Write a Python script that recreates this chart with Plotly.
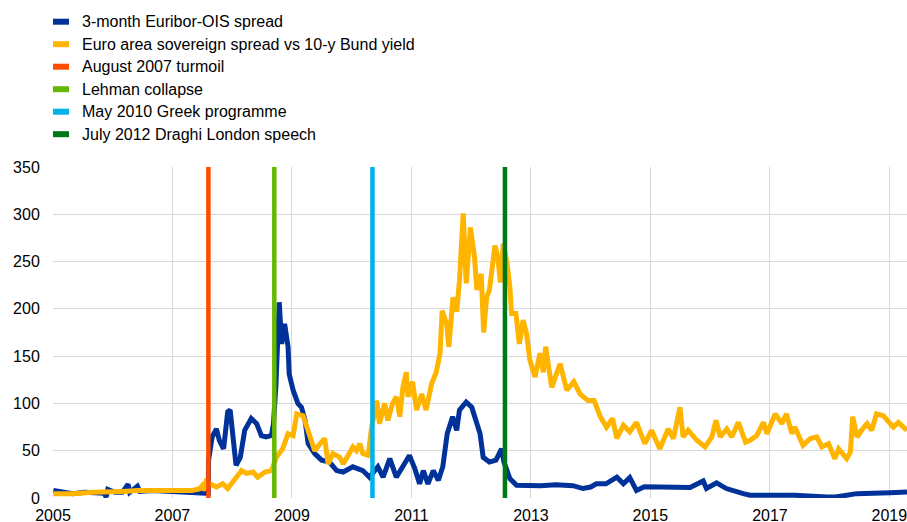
import plotly.graph_objects as go

# 3-month Euribor-OIS spread (basis points)
euribor_dates = [
    "2005-01-03", "2005-03-01", "2005-05-01", "2005-07-15", "2005-09-15", "2005-11-10",
    "2005-11-22", "2005-12-02", "2006-01-15", "2006-03-01", "2006-04-05", "2006-04-15",
    "2006-06-01", "2006-06-15", "2006-09-01", "2006-12-01", "2007-03-01", "2007-06-01",
    "2007-08-08", "2007-08-10", "2007-09-01", "2007-09-27", "2007-10-15", "2007-11-10",
    "2007-12-05", "2007-12-20", "2008-01-08", "2008-01-25", "2008-02-20", "2008-03-18",
    "2008-04-27", "2008-05-30", "2008-06-28", "2008-07-27", "2008-08-28", "2008-09-10",
    "2008-09-25", "2008-10-15", "2008-10-30", "2008-11-17", "2008-12-08", "2008-12-15",
    "2009-01-08", "2009-02-06", "2009-02-28", "2009-03-22", "2009-04-10", "2009-05-20",
    "2009-07-01", "2009-08-18", "2009-10-01", "2009-11-10", "2010-01-08", "2010-03-10",
    "2010-04-20", "2010-06-10", "2010-07-12", "2010-08-22", "2010-10-01", "2010-11-10",
    "2010-12-20", "2011-01-22", "2011-02-20", "2011-03-15", "2011-04-12", "2011-05-15",
    "2011-06-15", "2011-07-12", "2011-08-08", "2011-09-10", "2011-10-05", "2011-10-22",
    "2011-12-02", "2012-01-05", "2012-02-05", "2012-02-25", "2012-03-15", "2012-04-22",
    "2012-06-01", "2012-07-05", "2012-07-20", "2012-08-25", "2012-10-05", "2012-12-01",
    "2013-03-01", "2013-06-01", "2013-09-15", "2013-11-15", "2014-01-01", "2014-02-05",
    "2014-04-05", "2014-06-10", "2014-07-20", "2014-08-28", "2014-10-08", "2014-11-25",
    "2015-04-15", "2015-09-01", "2015-11-20", "2015-12-10", "2016-02-10", "2016-04-10",
    "2016-07-22", "2016-09-01", "2017-01-01", "2017-06-01", "2017-12-15", "2018-02-05",
    "2018-06-15", "2018-09-25", "2019-01-05", "2019-04-19",
]
euribor_values = [
    8, 6, 4.6, 6, 6, 5,
    1, 9, 6, 6, 14.5, 6,
    12.5, 7, 8, 7, 7, 6,
    5, 40, 64.5, 73, 61, 52,
    91, 93, 64.5, 34.6, 43, 71.6,
    84, 78.6, 66, 64.5, 66, 78.6,
    120, 207, 163, 184, 160, 131,
    114, 100, 96, 82, 57.5, 47,
    40, 38, 29, 27.5, 33, 29,
    22, 33, 22, 41.6, 22, 33,
    45, 31, 15, 29, 15, 29,
    18.7, 33, 68, 86, 71.6, 93,
    101.5, 96, 78.6, 68, 43, 38,
    40, 52, 38, 20.5, 13.4, 13,
    13, 14, 13, 10, 11.6, 15,
    15, 22, 15, 21.5, 8, 12,
    12, 11, 18, 10, 16, 10,
    4.6, 3, 3, 3, 1, 1,
    4.6, 4.6, 5.5, 6.3,
]

# Euro area sovereign spread vs 10-year Bund yield (basis points)
sovereign_dates = [
    "2005-01-03", "2005-05-01", "2005-09-01", "2005-12-01", "2006-03-01", "2006-06-01",
    "2006-09-01", "2006-12-01", "2007-03-01", "2007-05-01", "2007-06-15", "2007-07-05",
    "2007-07-20", "2007-07-27", "2007-09-27", "2007-11-05", "2007-12-05", "2008-01-15",
    "2008-02-28", "2008-03-28", "2008-05-08", "2008-06-05", "2008-07-20", "2008-08-28",
    "2008-09-28", "2008-11-05", "2008-12-08", "2009-01-08", "2009-01-30", "2009-03-10",
    "2009-03-28", "2009-05-01", "2009-05-20", "2009-06-22", "2009-07-20", "2009-08-10",
    "2009-09-08", "2009-10-20", "2009-11-10", "2009-12-10", "2010-01-08", "2010-01-30",
    "2010-02-20", "2010-03-10", "2010-04-12", "2010-04-30", "2010-06-03", "2010-06-20",
    "2010-07-22", "2010-08-10", "2010-09-08", "2010-10-01", "2010-10-22", "2010-11-10",
    "2010-12-01", "2010-12-12", "2011-01-08", "2011-02-02", "2011-03-05", "2011-04-01",
    "2011-05-05", "2011-06-02", "2011-06-25", "2011-07-08", "2011-08-05", "2011-08-18",
    "2011-09-12", "2011-10-05", "2011-10-22", "2011-11-14", "2011-12-02", "2011-12-28",
    "2012-01-22", "2012-02-05", "2012-03-03", "2012-03-18", "2012-04-05", "2012-04-22",
    "2012-05-26", "2012-06-12", "2012-06-28", "2012-07-16", "2012-08-08", "2012-08-25",
    "2012-09-05", "2012-10-01", "2012-10-22", "2012-11-14", "2012-12-05", "2012-12-25",
    "2013-01-26", "2013-02-25", "2013-03-18", "2013-04-01", "2013-05-08", "2013-06-28",
    "2013-08-08", "2013-09-20", "2013-10-28", "2013-12-15", "2014-01-22", "2014-03-01",
    "2014-04-08", "2014-05-15", "2014-06-10", "2014-07-20", "2014-08-28", "2014-10-08",
    "2014-11-28", "2015-01-08", "2015-02-10", "2015-02-28", "2015-04-20", "2015-05-22",
    "2015-07-01", "2015-07-20", "2015-08-20", "2015-10-12", "2015-12-01", "2016-01-12",
    "2016-02-06", "2016-03-03", "2016-04-12", "2016-05-12", "2016-06-22", "2016-08-05",
    "2016-09-02", "2016-10-12", "2016-11-22", "2016-12-14", "2017-02-02", "2017-03-15",
    "2017-04-12", "2017-05-15", "2017-06-02", "2017-07-22", "2017-09-05", "2017-10-15",
    "2017-11-15", "2017-12-25", "2018-02-02", "2018-02-25", "2018-04-15", "2018-05-08",
    "2018-05-22", "2018-06-18", "2018-07-15", "2018-08-18", "2018-09-15", "2018-10-15",
    "2018-11-25", "2018-12-28", "2019-01-25", "2019-02-25", "2019-04-19",
]
sovereign_values = [
    4.6, 4.6, 6, 6, 7, 8,
    8, 8, 8, 8, 9.5, 13.4,
    8, 17, 11.6, 15, 10, 18.7,
    29, 26, 27.5, 22, 27.5, 29,
    43, 52, 68, 66, 89, 87,
    78.6, 61, 50, 57.5, 62.8, 36,
    47, 43, 36, 45, 54, 50,
    57.5, 47, 45, 71.6, 103, 78.6,
    100, 82, 100, 107, 86, 117,
    133, 107, 123, 93, 110, 93,
    121, 133, 153, 198, 184, 160,
    212, 197, 230, 301, 227, 286,
    255, 220, 237, 175, 212, 220,
    267, 255, 228, 269, 248, 223,
    195, 195, 163, 188, 174, 146,
    128, 153, 133, 160, 117, 142,
    114, 123, 110, 103, 103, 86,
    75, 84, 63, 77, 70, 80,
    57.5, 71.6, 57.5, 52, 73, 63,
    96, 64.5, 71.6, 61, 54, 64.5,
    82, 64.5, 73, 64.5, 80, 59,
    61, 66, 80, 68, 89, 78.6,
    89, 68, 75, 55.7, 62.8, 64.5,
    54, 57.5, 41.6, 52, 41.6, 48.6,
    86, 64.5, 71.6, 78.6, 71.6, 89,
    87, 80, 75, 80, 71.6,
]

# Event markers
event_names = [
    "August 2007 turmoil",
    "Lehman collapse",
    "May 2010 Greek programme",
    "July 2012 Draghi London speech",
]
event_dates = ["2007-08-09", "2008-09-15", "2010-05-08", "2012-07-26"]

series_names = [
    "3-month Euribor-OIS spread",
    "Euro area sovereign spread vs 10-y Bund yield",
]

y_ticks = [0, 50, 100, 150, 200, 250, 300, 350]
x_tick_years = ["2005", "2007", "2009", "2011", "2013", "2015", "2017", "2019"]
x_start, x_end = "2005-01-01", "2019-04-19"

# Styling
blue, yellow = "#003299", "#FFB400"
event_colors = ["#FF4B00", "#65B800", "#00B1EA", "#007816"]
font_family = "Liberation Sans, Arial, sans-serif"

fig = go.Figure()
fig.add_trace(go.Scatter(x=euribor_dates, y=euribor_values, mode="lines",
                         name=series_names[0], line=dict(color=blue, width=5)))
fig.add_trace(go.Scatter(x=sovereign_dates, y=sovereign_values, mode="lines",
                         name=series_names[1], line=dict(color=yellow, width=5)))
for name, d, c in zip(event_names, event_dates, event_colors):
    fig.add_trace(go.Scatter(x=[d, d], y=[y_ticks[0], y_ticks[-1]], mode="lines",
                             name=name, line=dict(color=c, width=4.5)))

# Page geometry (pixels)
W, H = 907, 522
ml, mr, mt, mb = 53, 0, 167, 24
pw, ph = W - ml - mr, H - mt - mb

def px_to_paper(x, y):
    return (x - ml) / pw, (H - mb - y) / ph

# Legend drawn as small colour bars with labels above the plot
legend_labels = series_names + event_names
legend_colors = [blue, yellow] + event_colors
row_y0, row_step = 21.7, 22.5
for i, (lab, col) in enumerate(zip(legend_labels, legend_colors)):
    cy = row_y0 + i * row_step
    x0, y0 = px_to_paper(53, cy - 3)
    x1, y1 = px_to_paper(69, cy + 3)
    fig.add_shape(type="rect", xref="paper", yref="paper",
                  x0=x0, x1=x1, y0=y1, y1=y0, fillcolor=col, line_width=0)
    tx, ty = px_to_paper(80, cy)
    fig.add_annotation(xref="paper", yref="paper", x=tx, y=ty, text=lab,
                       showarrow=False, xanchor="left", yanchor="middle",
                       font=dict(size=16, color="#000000", family=font_family))

fig.update_layout(
    width=W, height=H,
    margin=dict(l=ml, r=mr, t=mt, b=mb, autoexpand=False),
    paper_bgcolor="white", plot_bgcolor="white",
    showlegend=False,
    font=dict(family=font_family, size=16, color="#000000"),
)
fig.update_xaxes(
    type="date", range=[x_start, x_end], automargin=False,
    tickvals=[y + "-01-01" for y in x_tick_years], ticktext=x_tick_years,
    ticklabeloverflow="allow",
    showgrid=True, gridcolor="#d9d9d9", gridwidth=1,
    zeroline=False, showline=False,
    ticks="outside", ticklen=3, tickcolor="rgba(0,0,0,0)",
)
fig.update_yaxes(
    range=[0, 350], tickvals=y_ticks, automargin=False,
    showgrid=True, gridcolor="#d9d9d9", gridwidth=1,
    zeroline=False, showline=False,
    ticks="outside", ticklen=9, tickcolor="rgba(0,0,0,0)",
)

fig.write_html("out.html")
